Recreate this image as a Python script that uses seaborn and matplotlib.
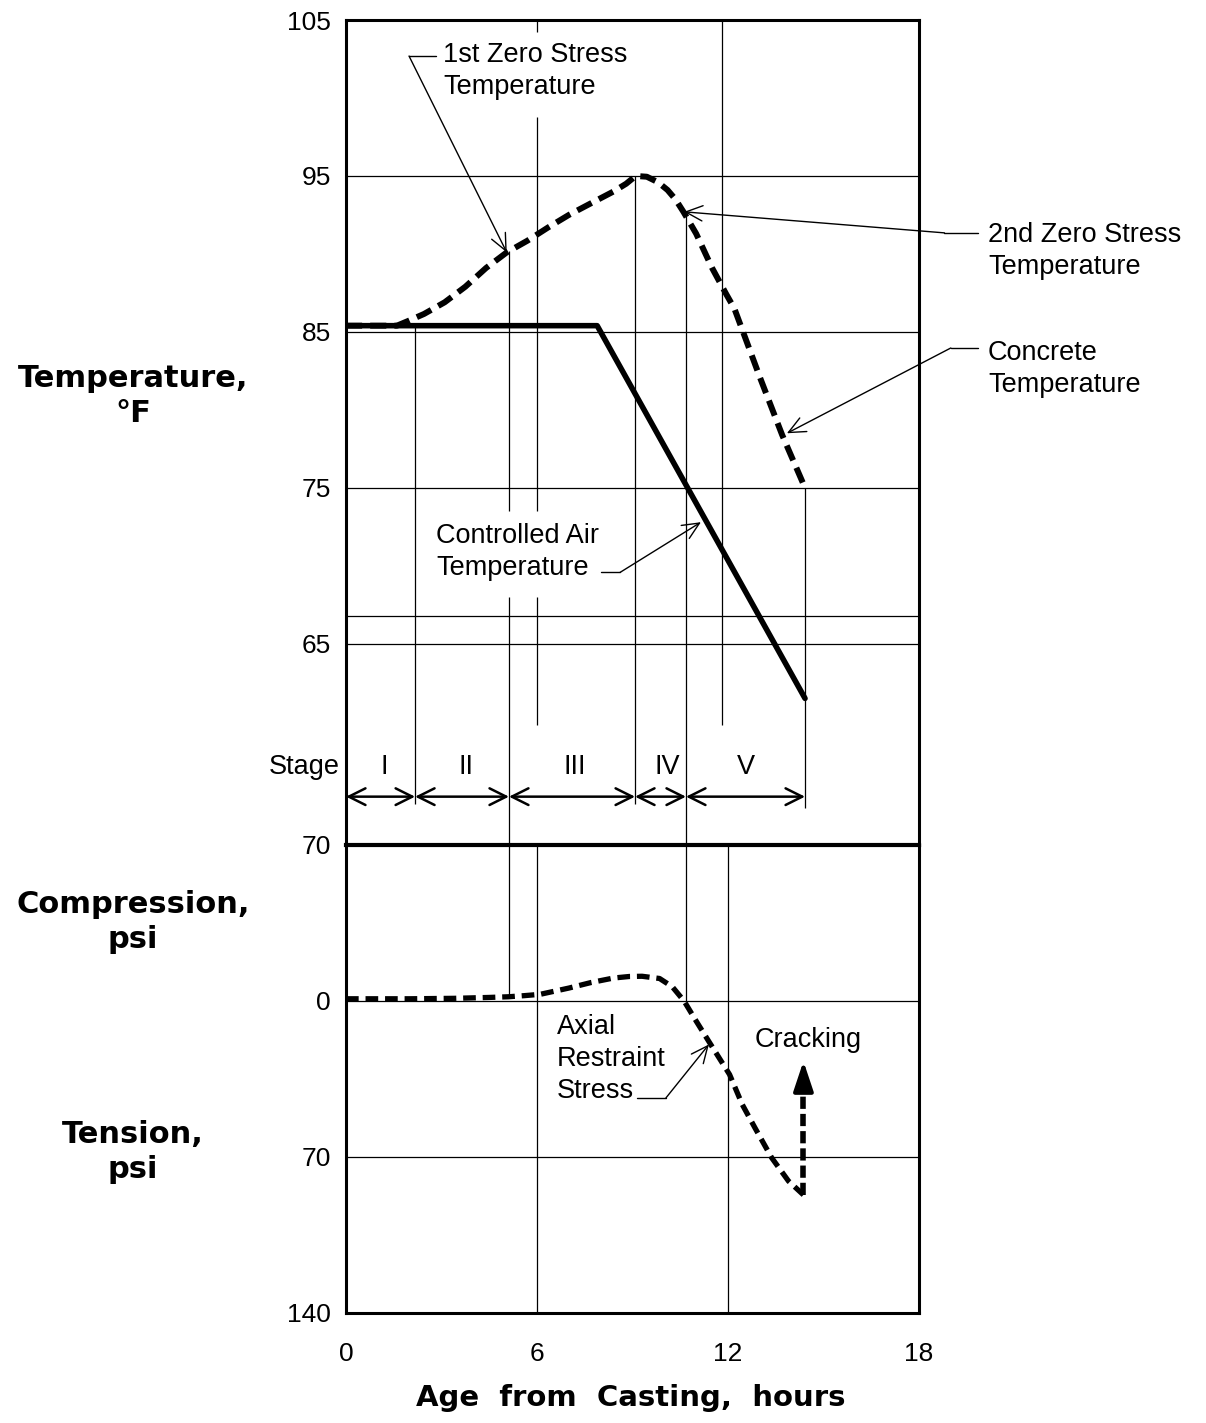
import matplotlib
matplotlib.use("Agg")
import matplotlib.pyplot as plt
import numpy as np
import pandas as pd
import seaborn as sns

# ---------------- data ----------------
air_hours = [0.0, 7.89, 14.42]
air_temp = [85.4, 85.4, 61.5]

concrete_hours = [0.0, 1.6, 1.95, 2.45, 3.1, 3.75, 4.4, 5.05, 5.7, 6.35, 7.0, 7.65,
                  8.4, 8.8, 9.1, 9.45, 9.8, 10.1, 10.35, 10.6, 11.0, 11.5, 11.95, 12.2,
                  13.0, 13.7, 14.42]
concrete_temp = [85.4, 85.4, 85.7, 86.15, 86.9, 87.9, 89.1, 90.1, 90.85, 91.7, 92.5, 93.2,
                 94.0, 94.5, 95.0, 94.95, 94.6, 94.1, 93.5, 92.7, 91.3, 89.1, 87.4, 86.5,
                 82.1, 78.4, 75.0]

stress_hours = [0.0, 2.0, 3.4, 4.5, 5.1, 5.6, 6.1, 7.0, 7.7, 8.4, 8.9, 9.3, 9.85,
                10.25, 10.62, 11.0, 11.4, 12.05, 12.45, 12.85, 13.37, 13.9, 14.37]
stress_psi = [1.0, 1.0, 1.2, 1.6, 1.9, 2.4, 3.0, 5.8, 8.3, 10.3, 11.0, 11.1, 10.1,
              6.4, 0.0, -9.0, -18.2, -33.0, -46.5, -57.0, -70.3, -80.8, -87.0]

crack_tip_psi = -27.0

stage_bounds = [0.0, 2.17, 5.12, 9.08, 10.68, 14.42]
stage_names = ["I", "II", "III", "IV", "V"]

temp_ticks = [65, 75, 85, 95, 105]
stress_ticks = [70, 0, -70, -140]
stress_tick_labels = ["70", "0", "70", "140"]
hour_ticks = [0, 6, 12, 18]

# ---------------- style ----------------
sns.set_theme(style="white")
plt.rcParams["font.family"] = ["Liberation Sans", "DejaVu Sans"]
plt.rcParams["axes.edgecolor"] = "black"
plt.rcParams["axes.linewidth"] = 2.2
plt.rcParams["text.color"] = "black"
plt.rcParams["xtick.color"] = "black"
plt.rcParams["ytick.color"] = "black"

W, H = 1206, 1423
fig = plt.figure(figsize=(W / 100, H / 100), dpi=100)
fig.patch.set_facecolor("white")

ax1 = fig.add_axes([346 / W, 1 - 845 / H, 573 / W, 825 / H])
ax2 = fig.add_axes([346 / W, 1 - 1313 / H, 573 / W, 468 / H])

K = "black"
GRID_LW = 0.9
TXT = 19.5
LS = 1.3
BOLD = dict(family=["DejaVu Sans"], fontweight="bold", fontsize=22, color=K)

for ax in (ax1, ax2):
    ax.set_xlim(0, 18)
    ax.grid(False)
    for s in ax.spines.values():
        s.set_color(K)
        s.set_linewidth(2.2)
    ax.tick_params(length=0, labelsize=19, colors=K, labelcolor=K)
ax2.spines["top"].set_linewidth(3.0)

ax1.set_ylim(52.1, 105)
ax2.set_ylim(-140, 70)

ax1.set_yticks(temp_ticks)
ax1.set_xticks(hour_ticks)
ax1.tick_params(labelbottom=False, pad=11)
ax2.set_yticks(stress_ticks)
ax2.set_yticklabels(stress_tick_labels)
ax2.set_xticks(hour_ticks)
ax2.tick_params(axis="y", pad=11)
ax2.tick_params(axis="x", pad=21)

# ---------------- grid / reference lines ----------------
for v in [95, 85, 75, 66.8, 65]:
    ax1.axhline(v, color=K, lw=GRID_LW, zorder=1)
for v in [0, -70]:
    ax2.axhline(v, color=K, lw=GRID_LW, zorder=1)

c_at = lambda h: float(np.interp(h, concrete_hours, concrete_temp))
s_at = lambda h: float(np.interp(h, stress_hours, stress_psi))

b = stage_bounds
top_segments = [
    (b[1], air_temp[0], 54.7),
    (b[2], c_at(b[2]), 73.5),
    (b[2], 68.0, 52.1),
    (6.0, 104.2, 105.0),
    (6.0, 73.5, 98.8),
    (6.0, 59.8, 68.0),
    (b[3], 54.7, 95.0),
    (b[4], 52.1, c_at(b[4])),
    (11.8, 59.8, 105.0),
    (b[5], 54.5, concrete_temp[-1]),
]
for x, y0, y1 in top_segments:
    ax1.vlines(x, min(y0, y1), max(y0, y1), color=K, lw=GRID_LW, zorder=1)

bottom_segments = [
    (b[2], s_at(b[2]), 70),
    (6.0, -140, 70),
    (12.0, -140, 70),
    (b[4], 0, 70),
]
for x, y0, y1 in bottom_segments:
    ax2.vlines(x, y0, y1, color=K, lw=GRID_LW, zorder=1)

# ---------------- curves ----------------
air_df = pd.DataFrame({"hours": air_hours, "temp": air_temp})
con_df = pd.DataFrame({"hours": concrete_hours, "temp": concrete_temp})
str_df = pd.DataFrame({"hours": stress_hours, "psi": stress_psi})

sns.lineplot(data=air_df, x="hours", y="temp", ax=ax1, color=K, lw=4.0,
             estimator=None, sort=False, zorder=3)
sns.lineplot(data=con_df, x="hours", y="temp", ax=ax1, color=K, lw=4.3,
             estimator=None, sort=False, zorder=3)
ax1.lines[-1].set_dashes([2.7, 1.35])

sns.lineplot(data=str_df, x="hours", y="psi", ax=ax2, color=K, lw=3.8,
             estimator=None, sort=False, zorder=3)
ax2.lines[-1].set_dashes([2.4, 1.3])

ax1.set_xlabel("")
ax1.set_ylabel("")
ax2.set_xlabel("")
ax2.set_ylabel("")

# cracking arrow (dashed shaft + filled head)
crack_x = stress_hours[-1]
shaft_top = crack_tip_psi - 10
ax2.plot([crack_x, crack_x], [stress_psi[-1], shaft_top], color=K, lw=4.0,
         dashes=[2.2, 0.9], zorder=3)
ax2.annotate("", xy=(crack_x, crack_tip_psi), xytext=(crack_x, shaft_top + 0.5),
             arrowprops=dict(arrowstyle="-|>,head_length=0.9,head_width=0.3",
                             color=K, lw=3, mutation_scale=20,
                             shrinkA=0, shrinkB=0), zorder=4)

# ---------------- stages ----------------
for i, name in enumerate(stage_names):
    ax1.annotate("", xy=(b[i], 55.2), xytext=(b[i + 1], 55.2),
                 arrowprops=dict(arrowstyle="<->,head_length=0.6,head_width=0.3",
                                 color=K, lw=1.8, mutation_scale=20,
                                 shrinkA=0, shrinkB=0))
label_x = [1.2, 3.77, 7.2, 10.1, 12.55]
for name, lx in zip(stage_names, label_x):
    ax1.text(lx, 57.1, name, ha="center", va="center", fontsize=TXT)
ax1.text(-0.19, 57.1, "Stage", ha="right", va="center", fontsize=TXT)

# ---------------- annotations ----------------
ARW = dict(arrowstyle="->,head_length=0.55,head_width=0.25", color=K, lw=1.0,
           mutation_scale=22, shrinkA=0, shrinkB=0)

def leader(ax, text_xy, elbow, start, tip, text, ha="left"):
    ax.text(text_xy[0], text_xy[1], text, ha=ha, va="center", fontsize=TXT,
            linespacing=LS, clip_on=False)
    ax.plot([start[0], elbow[0]], [start[1], elbow[1]], color=K, lw=1.0,
            clip_on=False, zorder=2)
    ax.annotate("", xy=tip, xytext=elbow, arrowprops=ARW, annotation_clip=False)

leader(ax1, (3.05, 101.7), (1.98, 102.69), (2.83, 102.69), (5.05, 90.1),
       "1st Zero Stress\nTemperature")
leader(ax1, (20.17, 90.16), (18.8, 91.35), (19.86, 91.35), (10.62, 92.7),
       "2nd Zero Stress\nTemperature")
leader(ax1, (20.17, 82.6), (19.0, 83.97), (19.86, 83.97), (13.85, 78.5),
       "Concrete\nTemperature")
leader(ax1, (2.83, 70.86), (8.61, 69.58), (8.01, 69.58), (11.15, 72.8),
       "Controlled Air\nTemperature")
leader(ax2, (6.63, -26.1), (10.05, -43.5), (9.14, -43.5), (11.4, -19.5),
       "Axial\nRestraint\nStress")
ax2.text(14.51, -17.3, "Cracking", ha="center", va="center", fontsize=TXT)

# ---------------- axis titles ----------------
fig.text(133 / W, 1 - 396 / H, "Temperature,\n°F", ha="center", va="center",
         linespacing=1.25, **BOLD)
fig.text(133 / W, 1 - 922 / H, "Compression,\npsi", ha="center", va="center",
         linespacing=1.25, **BOLD)
fig.text(133 / W, 1 - 1152 / H, "Tension,\npsi", ha="center", va="center",
         linespacing=1.25, **BOLD)
xl = dict(BOLD)
xl["fontsize"] = 21
fig.text(631 / W, 1 - 1398 / H, "Age  from  Casting,  hours", ha="center",
         va="center", **xl)

fig.savefig("out.png", dpi=100, facecolor="white")
